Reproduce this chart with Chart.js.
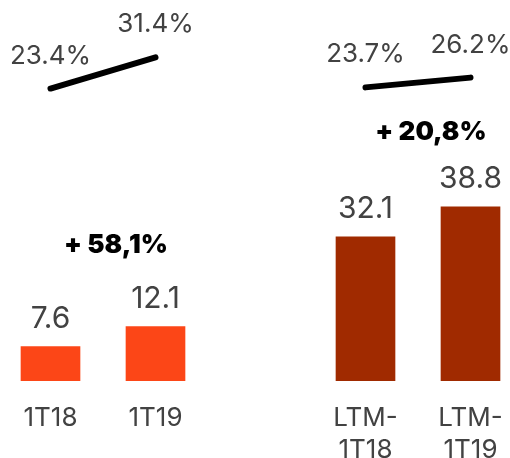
<!DOCTYPE html>
<html>
<head>
<meta charset="utf-8">
<script src="https://cdn.jsdelivr.net/npm/chart.js@4.4.1/dist/chart.umd.min.js"></script>
<style>
  html, body { margin: 0; padding: 0; background: #fff; }
  #wrap { width: 510px; height: 458px; }
</style>
</head>
<body>
<div id="wrap"><canvas id="chart"></canvas></div>
<script>
// Values
const categories = [["1T18"], ["1T19"], "", ["LTM-", "1T18"], ["LTM-", "1T19"]];
const revenue = [7.6, 12.1, null, 32.1, 38.8];
const margin = [23.4, 31.4, null, 23.7, 26.2];
const growthLabels = ["+ 58,1%", "+ 20,8%"];

const barColors = ["#FC4617", "#FC4617", "#FC4617", "#A02A00", "#A02A00"];

// Draws value labels, margin labels and growth notes
const labelPlugin = {
  id: "labels",
  afterDatasetsDraw(chart, args, opts) {
    const ctx = chart.ctx;
    ctx.save();
    ctx.textAlign = "center";
    ctx.textBaseline = "alphabetic";

    // bar values
    ctx.font = "30px Inter";
    ctx.fillStyle = "#424242";
    chart.getDatasetMeta(0).data.forEach((el, i) => {
      if (revenue[i] == null) return;
      ctx.fillText(revenue[i].toFixed(1), el.x, el.y - 19);
    });

    // margin labels
    ctx.font = "26px Inter";
    chart.getDatasetMeta(1).data.forEach((pt, i) => {
      if (margin[i] == null) return;
      ctx.fillText(margin[i].toFixed(1) + "%", pt.x, pt.y - 25);
    });

    // growth notes between each pair of bars
    const bars = chart.getDatasetMeta(0).data;
    const yScale = chart.scales.y;
    ctx.font = "900 26px Inter";
    ctx.fillStyle = "#000000";
    const pairs = [[0, 1], [3, 4]];
    pairs.forEach((p, k) => {
      const x = (bars[p[0]].x + bars[p[1]].x) / 2 + 13;
      const y = yScale.getPixelForValue(opts.growthAt[k]);
      ctx.fillText(growthLabels[k], x, y);
    });
    ctx.restore();
  }
};

new Chart(document.getElementById("chart"), {
  data: {
    labels: categories,
    datasets: [
      {
        type: "bar",
        data: revenue,
        backgroundColor: barColors,
        barThickness: 59,
        clip: false,
        yAxisID: "y",
        order: 2
      },
      {
        type: "line",
        data: margin,
        borderColor: "#000000",
        borderWidth: 6,
        borderCapStyle: "round",
        pointRadius: 0,
        spanGaps: false,
        clip: false,
        yAxisID: "y2",
        order: 1
      }
    ]
  },
  options: {
    responsive: true,
    maintainAspectRatio: false,
    animation: false,
    layout: { padding: { left: 50.5, right: 39.5, top: 0, bottom: 0 } },
    plugins: {
      legend: { display: false },
      tooltip: { enabled: false },
      labels: { growthAt: [28.6, 53.7] }
    },
    scales: {
      x: {
        offset: false,
        grid: { display: false, drawTicks: false },
        border: { display: false },
        ticks: {
          color: "#424242",
          font: { family: "Inter", size: 26, lineHeight: "32px" },
          padding: 21,
          maxRotation: 0,
          autoSkip: false
        },
        afterFit: (scale) => {
          scale.height = 77.3;
          scale.paddingLeft = 0;
          scale.paddingRight = 0;
        }
      },
      y: {
        display: false,
        min: 0,
        max: 85
      },
      y2: {
        display: false,
        min: -51.5,
        max: 46.1
      }
    }
  },
  plugins: [labelPlugin]
});
</script>
</body>
</html>
